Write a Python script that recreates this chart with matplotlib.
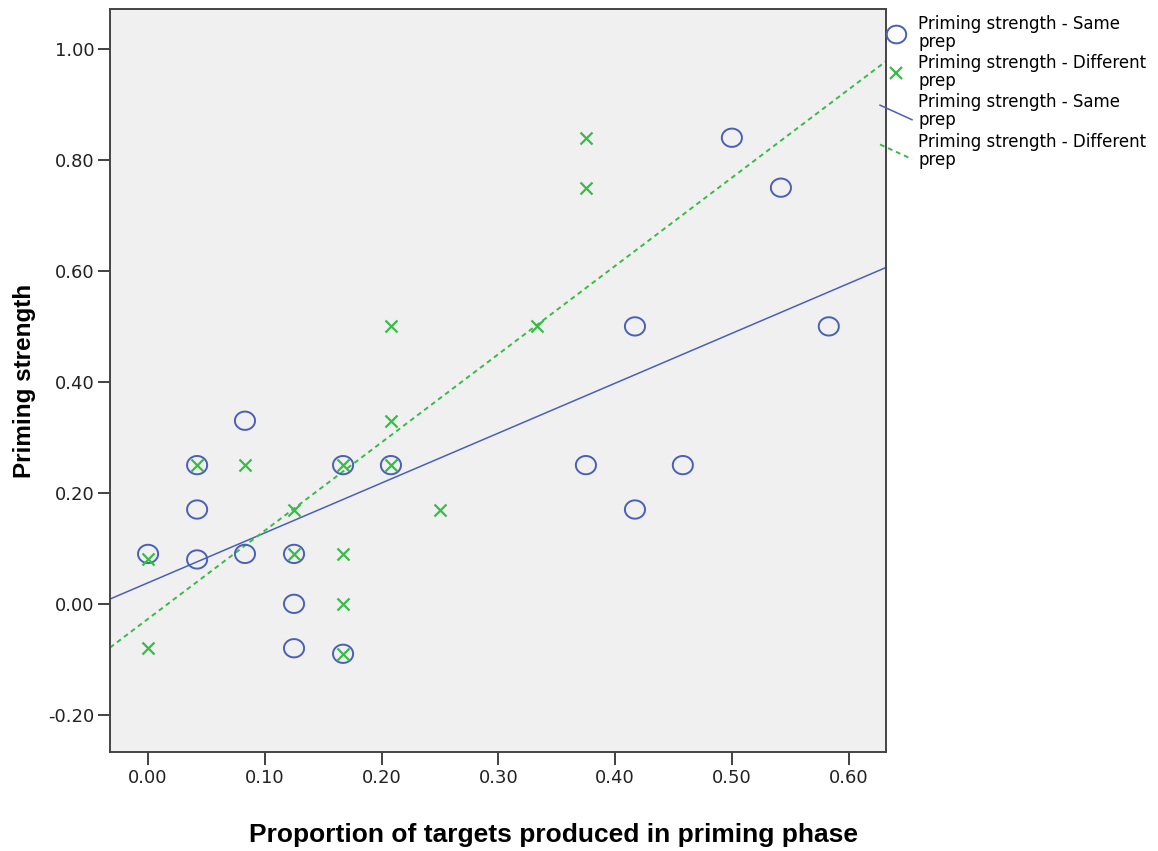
import numpy as np
import matplotlib
matplotlib.use("Agg")
import matplotlib.pyplot as plt
from matplotlib.path import Path
from matplotlib.lines import Line2D
from matplotlib.legend_handler import HandlerBase

# Proportion of targets produced in priming phase (x) vs priming strength (y)
same_x = [0.0, 0.042, 0.042, 0.042, 0.083, 0.083, 0.125, 0.125, 0.125, 0.167,
          0.167, 0.208, 0.375, 0.417, 0.417, 0.458, 0.5, 0.542, 0.583]
same_y = [0.09, 0.25, 0.17, 0.08, 0.33, 0.09, 0.09, 0.0, -0.08, 0.25,
          -0.09, 0.25, 0.25, 0.5, 0.17, 0.25, 0.84, 0.75, 0.5]

diff_x = [0.0, 0.0, 0.042, 0.083, 0.125, 0.125, 0.167, 0.167, 0.167, 0.167,
          0.208, 0.208, 0.208, 0.25, 0.333, 0.375, 0.375]
diff_y = [0.08, -0.08, 0.25, 0.25, 0.17, 0.09, 0.25, 0.09, 0.0, -0.09,
          0.5, 0.33, 0.25, 0.17, 0.5, 0.84, 0.75]

# fit lines (intercept, slope) as reported with the chart
fit_same = (0.038, 0.899)
fit_diff = (-0.027, 1.590)

BLUE = '#4a5fb8'
GREEN = '#38bb48'
LABEL_SAME = 'Priming strength - Same\nprep'
LABEL_DIFF = 'Priming strength - Different\nprep'
BOLD_FONT = ['Liberation Sans', 'DejaVu Sans']


class SlopedLine(HandlerBase):
    """Legend key drawn as a short falling line, SPSS style."""
    def create_artists(self, legend, orig_handle, xdescent, ydescent,
                       width, height, fontsize, trans):
        line = Line2D([-xdescent, width - xdescent],
                      [1.12 * height - ydescent, -0.13 * height - ydescent])
        self.update_prop(line, orig_handle, legend)
        line.set_transform(trans)
        return [line]


# slightly wide ellipse marker, like the SPSS circle
t = np.linspace(0, 2 * np.pi, 60)
ellipse = Path(np.column_stack([1.1 * np.cos(t), np.sin(t)]))

fig = plt.figure(figsize=(11.58, 8.51), dpi=100)
ax = fig.add_axes([110 / 1158, 1 - 752 / 851, 776 / 1158, 743 / 851])
ax.set_facecolor('#f0f0f0')

xlim = (-0.0326, 0.632)
ylim = (-0.267, 1.072)

ax.scatter(same_x, same_y, marker=ellipse, s=210, facecolors='none',
           edgecolors=BLUE, linewidths=1.4, zorder=3)
ax.scatter(diff_x, diff_y, marker='x', s=75, c=GREEN, linewidths=1.6, zorder=4)

xs = np.array(xlim)
ax.plot(xs, fit_same[0] + fit_same[1] * xs, color=BLUE, lw=1.1, zorder=2)
ax.plot(xs, fit_diff[0] + fit_diff[1] * xs, color=GREEN, lw=1.4,
        ls=(0, (2.5, 2)), zorder=2)

ax.set_xlim(*xlim)
ax.set_ylim(*ylim)
ax.set_xticks(np.arange(0, 0.61, 0.1))
ax.set_yticks(np.arange(-0.2, 1.01, 0.2))
ax.xaxis.set_major_formatter(plt.FormatStrFormatter('%.2f'))
ax.yaxis.set_major_formatter(plt.FormatStrFormatter('%.2f'))
ax.tick_params(direction='out', length=9, width=1.3, color='#333333',
               labelcolor='#222222', labelsize=13)
ax.tick_params(axis='y', pad=2)
ax.tick_params(axis='x', pad=3)
for s in ax.spines.values():
    s.set_color('#444444')
    s.set_linewidth(1.4)

ax.set_xlabel('Proportion of targets produced in priming phase', fontsize=19,
              fontweight='bold', family=BOLD_FONT)
ax.xaxis.set_label_coords(0.572, -0.096)
ax.set_ylabel('Priming strength', fontsize=17.5, fontweight='bold',
              family=BOLD_FONT)
ax.yaxis.set_label_coords(-0.0953, 0.5)

fit_same_key = Line2D([], [], color=BLUE, lw=1.1, label=LABEL_SAME)
fit_diff_key = Line2D([], [], color=GREEN, lw=1.4, ls=(0, (2.5, 2)),
                      label=LABEL_DIFF)
handles = [
    Line2D([], [], marker=ellipse, markersize=14, markerfacecolor='none',
           markeredgecolor=BLUE, markeredgewidth=1.4, ls='none', label=LABEL_SAME),
    Line2D([], [], marker='x', markersize=9, color=GREEN, markeredgewidth=1.6,
           ls='none', label=LABEL_DIFF),
    fit_same_key,
    fit_diff_key,
]
leg = ax.legend(handles=handles, loc='upper left', bbox_to_anchor=(0.988, 0.997),
                frameon=False, fontsize=12, handlelength=1.92, handletextpad=0.36,
                labelspacing=0.2, borderaxespad=0, borderpad=0.2,
                handler_map={fit_same_key: SlopedLine(), fit_diff_key: SlopedLine()})
for txt in leg.get_texts():
    txt.set_linespacing(1.0)

fig.savefig('out.png', dpi=100, facecolor='white')
